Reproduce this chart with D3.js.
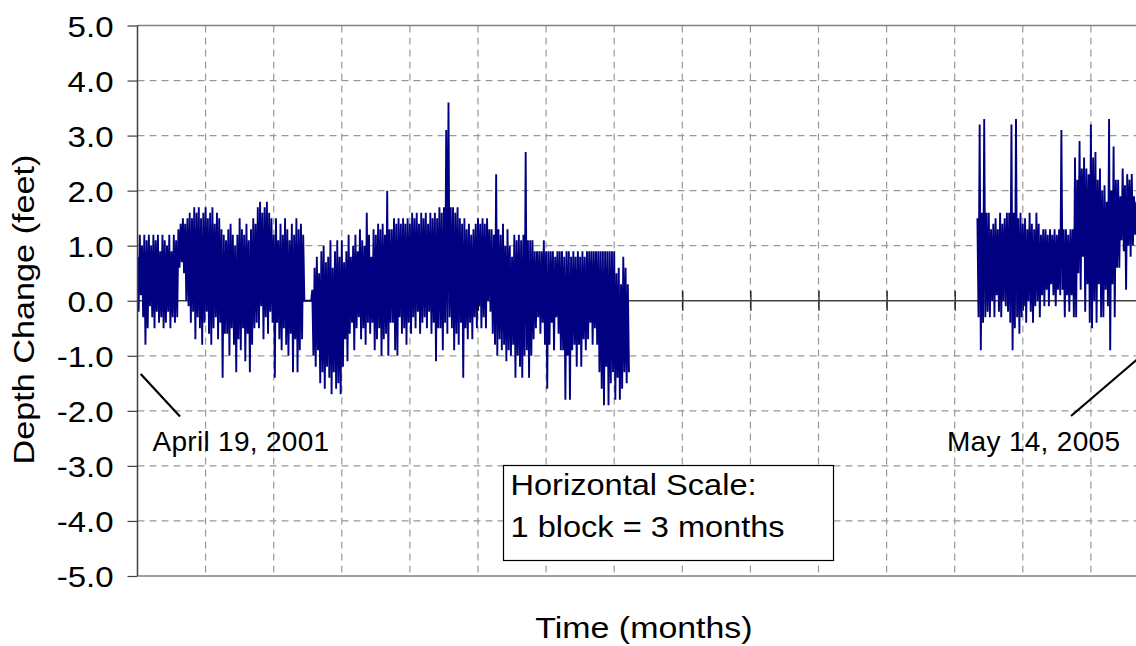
<!DOCTYPE html>
<html>
<head>
<meta charset="utf-8">
<script src="https://cdn.jsdelivr.net/npm/d3@7"></script>
<style>
  html, body { margin: 0; padding: 0; background: #fff; }
  svg { display: block; }
  text { font-family: "Liberation Sans", Arial, sans-serif; fill: #000; }
</style>
</head>
<body>
<svg id="chart" width="1136" height="646"></svg>
<script>
// ---------------- DATA ----------------
const yTickValues = [-5, -4, -3, -2, -1, 0, 1, 2, 3, 4, 5];
const monthGrid = [3, 6, 9, 12, 15, 18, 21, 24, 27, 30, 33, 36, 39, 42];
const binMonths = 0.1;   // each bin holds the high and low reading of ~3 days

// Segment 1: starts April 19, 2001 (month 0)
const seg1Start = 0;
const seg1High = [
  0.8,1.2,1.0,1.2,1.1,1.2,1.0,1.2,1.1,1.2,0.9,1.2,1.1,1.0,1.2,0.9,1.2,1.1,
  1.3,1.4,1.5,
  1.4,1.5,1.6,1.5,1.7,1.6,1.7,1.5,1.6,1.7,1.5,1.6,1.7,1.4,1.6,1.5,1.3,1.2,
  1.1,1.3,1.4,1.2,1.0,1.2,1.5,1.3,1.2,1.4,1.1,1.3,1.5,1.4,
  1.7,1.8,1.6,1.7,1.8,1.6,1.5,
  1.2,1.5,1.1,1.4,1.2,1.5,1.3,1.1,1.4,1.2,1.5,1.3,1.4,1.2,
  0.0,0.0,0.0,
  0.2,0.6,0.8,0.5,0.9,1.0,0.7,0.8,1.1,0.6,0.9,1.1,0.8,1.1,
  0.7,0.9,1.2,0.8,1.0,1.2,0.9,1.3,1.1,1.0,1.6,
  1.2,0.8,1.3,1.2,1.4,1.3,1.4,1.2,2.0,1.3,
  1.3,1.5,1.4,1.5,1.4,1.5,1.4,1.5,1.4,
  1.6,1.5,1.6,1.4,1.6,1.5,1.6,1.4,1.6,1.5,1.6,1.5,
  1.7,1.6,1.7,3.1,3.6,1.7,
  1.7,1.6,1.7,1.5,1.4,
  1.5,1.3,1.4,1.2,1.3,1.4,
  1.5,1.4,1.5,1.4,1.5,1.3,
  1.3,1.2,2.3,1.3,1.2,
  1.4,1.0,1.3,1.0,0.8,
  1.2,1.1,1.2,1.1,1.2,2.7,1.1,
  1.1,1.1,
  0.9,0.9,0.9,0.9,1.1,0.9,0.9,0.9,0.9,0.8,0.9,0.9,
  0.9,0.8,0.9,0.9,0.8,0.9,0.8,0.9,0.8,0.9,0.8,0.9,
  0.9,0.9,0.9,0.9,
  0.9,0.9,0.9,0.9,0.9,0.9,0.9,0.9,0.5,0.6,
  0.3,0.8,0.6,0.3
];
const seg1Low = [
  -0.2,0.1,-0.3,-0.8,-0.5,-0.1,-0.3,-0.5,-0.2,-0.4,-0.3,-0.5,-0.4,-0.2,-0.5,-0.3,-0.4,-0.3,
  0.6,0.7,0.5,
  0.0,-0.1,-0.4,-0.2,-0.7,-0.3,-0.5,-0.8,-0.4,-0.2,-0.6,-0.8,-0.5,-0.3,-0.7,-0.4,-1.4,-0.6,
  -0.6,-1.0,-0.5,-0.8,-1.3,-0.7,-0.9,-0.5,-1.1,-0.6,-1.3,-0.8,-0.5,-0.4,
  -0.5,-0.1,-0.7,-0.3,-0.6,-0.2,-0.4,
  -1.4,-0.4,-0.7,-0.9,-0.5,-0.8,-1.0,-0.6,-1.3,-0.7,-1.3,-0.9,-0.7,0.0,
  0.0,0.0,0.0,
  -1.0,-1.2,-0.9,-1.5,-1.3,-1.6,-1.2,-1.4,-1.7,-1.3,-1.6,-1.5,-1.7,-1.2,
  -0.7,-1.1,-0.6,-0.4,-0.9,-0.5,-0.3,-0.7,-0.5,-0.8,-0.4,
  -0.6,-0.4,-0.9,-0.7,-0.5,-1.0,-0.7,-0.6,-1.0,-0.4,
  -0.4,-0.9,-1.0,-0.3,-0.6,-0.5,-0.8,-0.4,-0.6,
  -0.3,-0.5,-0.2,-0.6,-0.4,-0.3,-0.5,-0.2,-0.6,-0.4,-1.1,-0.5,
  -0.5,-0.9,-0.4,-0.6,-0.3,-0.5,
  -0.9,-0.6,-0.8,-0.4,-1.4,
  -0.5,-0.7,-0.4,-0.7,-0.3,-0.5,
  -0.1,-0.5,-0.3,-0.5,0.0,-0.2,
  -0.6,-0.8,-1.0,-0.7,-0.9,
  -0.8,-1.1,-0.9,-1.0,-0.8,
  -1.4,-1.0,-1.2,-1.4,-1.0,-0.9,-1.4,
  -1.0,-0.7,
  -0.5,-0.3,-0.6,-0.4,-0.8,-1.6,-0.8,-0.4,-0.9,-0.3,-0.6,-0.9,
  -0.9,-1.8,-1.0,-1.8,-0.9,-0.8,-1.2,-0.8,-1.2,-0.7,-0.9,-0.7,
  -0.4,-0.8,-0.5,-0.8,
  -1.3,-1.6,-1.9,-1.2,-1.9,-1.5,-1.3,-1.8,-1.4,-1.8,
  -1.6,-1.3,-1.5,-1.3
];

// Segment 2: resumes near month 37, runs to May 14, 2005
const seg2Start = 37.0;
const seg2High = [
  1.5,3.2,1.6,3.3,1.6,
  1.6,1.3,1.4,1.5,1.3,1.6,1.4,1.5,1.6,
  1.6,3.2,1.6,3.3,1.5,1.6,1.4,
  1.5,1.3,1.6,1.4,1.3,1.6,1.4,1.2,1.3,
  1.3,1.2,1.3,1.2,1.3,1.2,1.3,
  3.1,1.3,1.3,1.2,1.3,1.3,
  2.6,2.2,2.9,2.4,2.6,2.4,2.3,
  3.2,2.6,2.7,2.2,2.4,
  2.0,2.1,1.8,
  3.3,2.0,2.8,2.2,
  2.2,1.9,2.4,2.1,2.3,2.2,2.3,1.9,1.8
];
const seg2Low = [
  -0.3,-0.9,-0.4,-0.3,-0.2,
  -0.3,0.0,-0.3,0.1,-0.2,-0.3,0.0,-0.1,-0.2,
  -0.4,-0.9,-0.5,-0.3,-0.6,-0.3,-0.1,
  -0.4,0.0,-0.2,-0.4,-0.1,0.0,-0.3,0.1,-0.1,
  0.2,-0.1,0.3,0.1,-0.1,0.2,0.1,
  0.2,-0.3,0.1,-0.2,0.1,-0.3,
  -0.3,0.5,0.2,0.8,-0.2,0.3,-0.4,
  -0.5,0.0,-0.4,0.3,-0.3,
  -0.3,0.2,-0.1,
  -0.9,0.3,-0.3,0.6,
  0.6,1.1,0.9,0.2,1.0,0.8,1.0,1.2,1.0
];

const yTitle = "Depth Change (feet)";
const xTitle = "Time (months)";
const startLabel = "April 19, 2001";
const endLabel = "May 14, 2005";
const boxLines = ["Horizontal Scale:", "1 block = 3 months"];

// ---------------- CHART ----------------
(function () {
const svg = d3.select("#chart");
const pLeft = 137.5, pTop = 25.5, pBottom = 576, pRight = 1136;
const pxPerMonth = 68.1 / 3;
const x = d3.scaleLinear().domain([0, 44]).range([pLeft, pLeft + 44 * pxPerMonth]);
const y = d3.scaleLinear().domain([-5, 5]).range([pBottom, pTop]);

function stretch(sel, f) {
  sel.each(function () {
    const len = this.getComputedTextLength();
    d3.select(this).attr("textLength", len * f).attr("lengthAdjust", "spacingAndGlyphs");
  });
}

const grid = svg.append("g");
grid.selectAll("line.h").data(yTickValues.filter(v => v !== 0 && v !== -5 && v !== 5))
  .enter().append("line")
  .attr("x1", pLeft).attr("x2", pRight)
  .attr("y1", d => y(d)).attr("y2", d => y(d))
  .attr("stroke", "#999").attr("stroke-width", 1.2)
  .attr("stroke-dasharray", "7,5");
grid.selectAll("line.v").data(monthGrid).enter().append("line")
  .attr("x1", d => x(d)).attr("x2", d => x(d))
  .attr("y1", pTop).attr("y2", pBottom)
  .attr("stroke", "#999").attr("stroke-width", 1.2)
  .attr("stroke-dasharray", "7,5");

svg.append("line").attr("x1", pLeft).attr("x2", pRight).attr("y1", pTop).attr("y2", pTop)
  .attr("stroke", "#808080").attr("stroke-width", 1.5);
svg.append("line").attr("x1", pLeft).attr("x2", pRight).attr("y1", pBottom).attr("y2", pBottom)
  .attr("stroke", "#808080").attr("stroke-width", 1.5);

const xAxis = d3.axisBottom(x).tickValues(monthGrid).tickSize(10).tickFormat("");
const xg = svg.append("g").attr("transform", `translate(0,${y(0)})`).call(xAxis);
xg.select(".domain").remove();
xg.selectAll(".tick line").attr("y1", -10).attr("y2", 10).attr("stroke", "#000").attr("stroke-width", 1.2);
svg.append("line").attr("x1", pLeft).attr("x2", pRight).attr("y1", y(0)).attr("y2", y(0))
  .attr("stroke", "#404040").attr("stroke-width", 1.5);

// data: each bin drawn high -> low, bins joined in time order
function binsToPoints(start, highs, lows) {
  const pts = [];
  highs.forEach((h, i) => {
    const t = start + i * binMonths;
    pts.push([t, h]);
    pts.push([t + binMonths / 2, lows[i]]);
  });
  return pts;
}
const line = d3.line().x(d => x(d[0])).y(d => y(d[1]));
svg.append("clipPath").attr("id", "pc").append("rect")
  .attr("x", pLeft).attr("y", pTop).attr("width", pRight - pLeft).attr("height", pBottom - pTop);
[binsToPoints(seg1Start, seg1High, seg1Low), binsToPoints(seg2Start, seg2High, seg2Low)].forEach(s => {
  svg.append("path").datum(s).attr("d", line)
    .attr("fill", "none").attr("stroke", "#000080").attr("stroke-width", 1.9)
    .attr("stroke-linejoin", "miter").attr("stroke-miterlimit", 1.5)
    .attr("clip-path", "url(#pc)");
});

const yAxis = d3.axisLeft(y).tickValues(yTickValues).tickSize(10).tickPadding(14)
  .tickFormat(d => d.toFixed(1));
const yg = svg.append("g").attr("transform", `translate(${pLeft},0)`).call(yAxis);
yg.select(".domain").attr("stroke", "#404040").attr("stroke-width", 1.5)
  .attr("d", `M0,${pTop}V${pBottom}`);
yg.selectAll(".tick line").attr("stroke", "#404040").attr("stroke-width", 1.2);
yg.selectAll(".tick text")
  .attr("font-family", "Liberation Sans, Arial, sans-serif")
  .attr("font-size", 30).attr("fill", "#000")
  .attr("dy", "0.36em");
stretch(yg.selectAll(".tick text"), 1.1);

svg.append("line").attr("x1", x(0) + 3.2).attr("y1", 374).attr("x2", 180).attr("y2", 416.5)
  .attr("stroke", "#000").attr("stroke-width", 2.2);
svg.append("text").attr("x", 152.5).attr("y", 450.5)
  .attr("font-size", 28).attr("letter-spacing", "0.3px").text(startLabel);
svg.append("line").attr("x1", 1071).attr("y1", 416).attr("x2", 1140).attr("y2", 357)
  .attr("stroke", "#000").attr("stroke-width", 2.2);
svg.append("text").attr("x", 947).attr("y", 450.5)
  .attr("font-size", 28).attr("letter-spacing", "0.3px").text(endLabel);

svg.append("rect").attr("x", 503.5).attr("y", 465.5).attr("width", 330).attr("height", 95)
  .attr("fill", "#fff").attr("stroke", "#000").attr("stroke-width", 1.2);
const b1 = svg.append("text").attr("x", 510.5).attr("y", 495)
  .attr("font-size", 30).text(boxLines[0]);
const b2 = svg.append("text").attr("x", 510.5).attr("y", 537)
  .attr("font-size", 30).text(boxLines[1]);
stretch(b1, 1.085); stretch(b2, 1.085);

const xt = svg.append("text").attr("x", 644).attr("y", 638).attr("text-anchor", "middle")
  .attr("font-size", 30).text(xTitle);
const yt = svg.append("text").attr("transform", "translate(33.5,309.5) rotate(-90)")
  .attr("text-anchor", "middle")
  .attr("font-size", 30).text(yTitle);
stretch(xt, 1.13); stretch(yt, 1.14);
})();
</script>
</body>
</html>
